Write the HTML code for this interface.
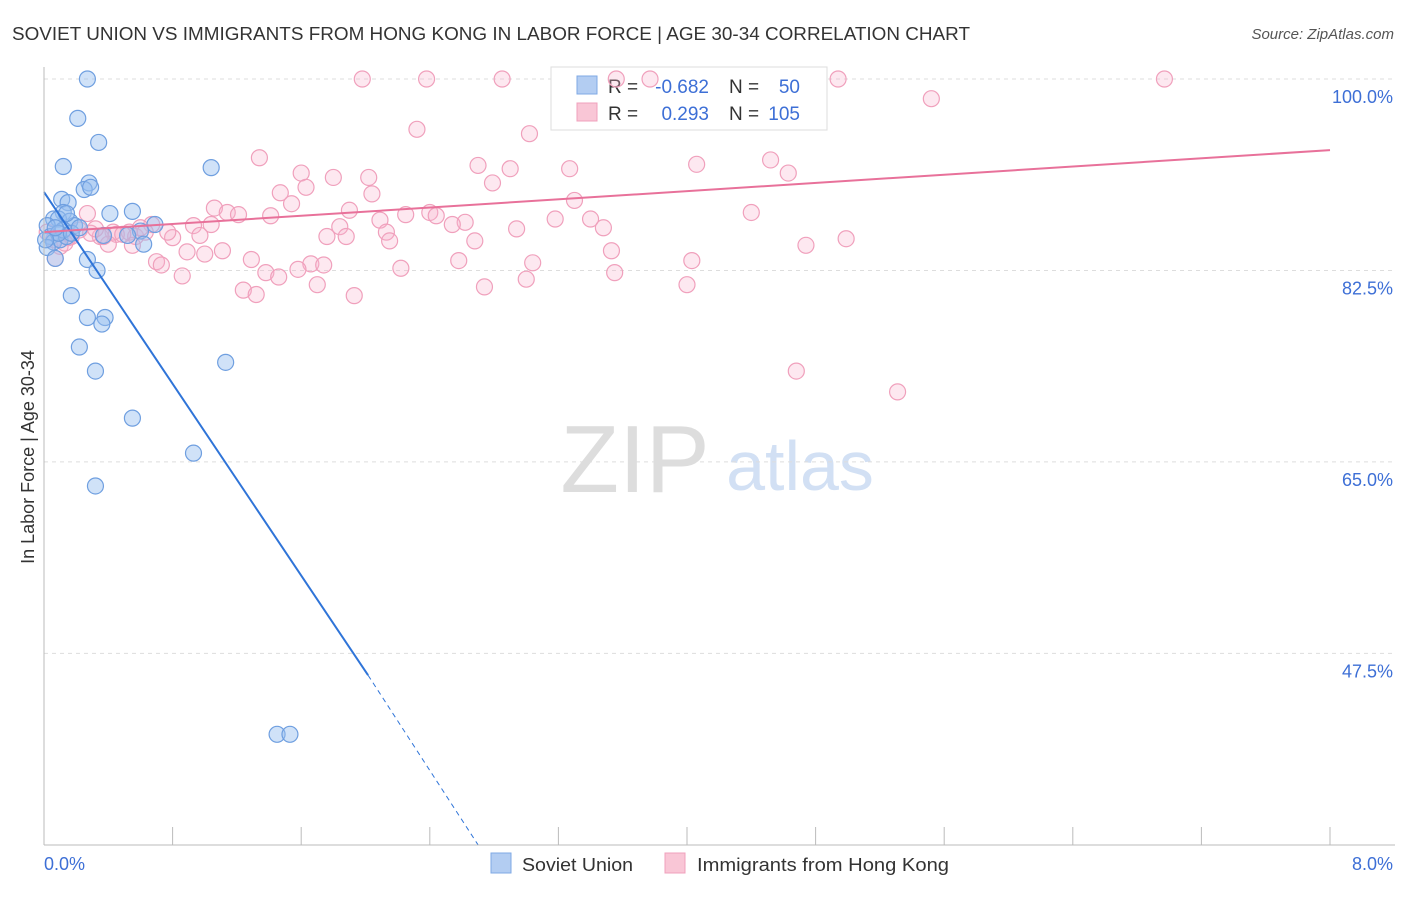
<!DOCTYPE html>
<html><head><meta charset="utf-8"><style>
body{margin:0;background:#fff;font-family:"Liberation Sans",sans-serif;}
svg text{font-family:"Liberation Sans",sans-serif;}
</style></head><body>
<svg id="c" width="1406" height="892" xmlns="http://www.w3.org/2000/svg">
<text x="12" y="40" font-size="18" fill="#333" textLength="958" lengthAdjust="spacingAndGlyphs">SOVIET UNION VS IMMIGRANTS FROM HONG KONG IN LABOR FORCE | AGE 30-34 CORRELATION CHART</text>
<text x="1394" y="39" font-size="15" fill="#555" font-style="italic" text-anchor="end">Source: ZipAtlas.com</text>
<text x="635" y="492" font-size="96" fill="#ddd" font-family="Liberation Serif" text-anchor="middle">ZIP</text>
<text x="800" y="490" font-size="70" fill="#d2e0f4" text-anchor="middle">atlas</text>
<text transform="translate(34,457) rotate(-90)" font-size="18" fill="#333" text-anchor="middle">In Labor Force | Age 30-34</text>
<g id="grid"></g>
<g>
<rect x="551" y="67" width="276" height="63" fill="#fff" stroke="#ddd"/>
<rect x="577" y="76" width="20" height="18" fill="#b3cdf2" stroke="#7fa9e4"/>
<rect x="577" y="103" width="20" height="18" fill="#f9c6d6" stroke="#f0a0bc"/>
<text x="608" y="93" font-size="19" fill="#333">R =</text>
<text x="709" y="93" font-size="19" fill="#3d6fd6" text-anchor="end">-0.682</text>
<text x="729" y="93" font-size="19" fill="#333">N =</text>
<text x="800" y="93" font-size="19" fill="#3d6fd6" text-anchor="end">50</text>
<text x="608" y="120" font-size="19" fill="#333">R =</text>
<text x="709" y="120" font-size="19" fill="#3d6fd6" text-anchor="end">0.293</text>
<text x="729" y="120" font-size="19" fill="#333">N =</text>
<text x="800" y="120" font-size="19" fill="#3d6fd6" text-anchor="end">105</text>
</g>
<g id="pts"></g><g id="lines"></g>
<line x1="44" y1="67" x2="44" y2="845" stroke="#bbb"/>
<line x1="44" y1="845" x2="1395" y2="845" stroke="#bbb"/>
<text x="44" y="870" font-size="18" fill="#3d6fd6">0.0%</text>
<text x="1393" y="870" font-size="18" fill="#3d6fd6" text-anchor="end">8.0%</text>
<g>
<rect x="491" y="853" width="20" height="20" fill="#b3cdf2" stroke="#7fa9e4"/>
<text x="522" y="871" font-size="18" fill="#333" textLength="111" lengthAdjust="spacingAndGlyphs">Soviet Union</text>
<rect x="665" y="853" width="20" height="20" fill="#f9c6d6" stroke="#f0a0bc"/>
<text x="697" y="871" font-size="18" fill="#333" textLength="252" lengthAdjust="spacingAndGlyphs">Immigrants from Hong Kong</text>
</g>
</svg>
<script>
const yTicks=[100,82.5,65,47.5];
const xTicks=[0,0.8,1.6,2.4,3.2,4,4.8,5.6,6.4,7.2,8];
const blueX=[0.27,0.21,0.34,0.12,1.04,0.28,0.25,0.29,0.11,0.15,0.55,0.41,0.12,0.06,0.09,0.16,0.19,0.02,0.69,0.60,0.04,0.06,0.10,0.14,0.37,0.52,0.62,0.02,0.07,0.27,0.33,0.17,0.27,0.38,0.36,0.22,0.32,1.13,0.55,0.93,0.32,1.45,1.53,0.12,0.09,0.01,0.17,0.14,0.07,0.22];
const blueY=[100,96.4,94.2,92.0,91.9,90.5,89.9,90.1,89.0,88.7,87.9,87.7,87.8,87.2,87.2,87.0,86.6,86.6,86.7,86.1,85.6,85.1,85.3,85.6,85.7,85.7,84.9,84.6,83.6,83.5,82.5,80.2,78.2,78.2,77.6,75.5,73.3,74.1,69.0,65.8,62.8,40.1,40.1,86.2,85.9,85.3,85.9,87.7,86.4,86.4];
const pinkX=[1.98,2.38,2.85,3.56,3.77,4.94,6.97,5.52,2.32,3.02,1.34,4.06,4.52,2.70,2.90,3.27,1.60,1.80,2.02,4.63,2.79,1.47,1.63,2.04,3.30,1.54,1.06,1.90,4.40,1.14,1.21,1.41,2.25,2.40,2.44,2.09,2.62,3.40,2.54,3.18,0.27,0.67,0.93,1.04,3.48,2.94,1.84,2.13,1.76,1.88,2.68,2.15,0.97,0.80,0.43,0.53,0.77,0.22,0.35,0.57,0.63,0.45,0.15,0.40,0.55,0.89,1.11,1.00,3.53,4.74,4.99,3.04,1.29,2.58,1.66,1.58,1.74,0.70,0.73,4.03,2.22,1.38,1.46,3.55,0.86,3.00,1.70,2.74,4.00,1.24,1.32,1.93,4.68,5.31,0.06,0.10,0.17,0.02,0.07,0.29,0.13,0.49,0.60,0.37,0.32];
const pinkY=[100,100,100,100,100,100,100,98.2,95.4,95.0,92.8,92.2,92.6,92.1,91.8,91.8,91.4,91.0,91.0,91.4,90.5,89.6,90.1,89.5,88.9,88.6,88.2,88.0,87.8,87.8,87.6,87.5,87.6,87.8,87.5,87.1,86.9,87.2,86.7,87.2,87.7,86.7,86.6,86.7,86.4,86.3,86.5,86.0,85.6,85.6,85.2,85.2,85.7,85.5,86.0,86.0,86.0,86.2,85.6,85.6,86.0,85.8,85.5,84.9,84.8,84.2,84.3,84.0,84.3,84.8,85.4,83.2,83.5,83.4,83.1,82.6,83.0,83.3,83.0,83.4,82.7,82.3,81.9,82.3,82.0,81.7,81.2,81.0,81.2,80.7,80.3,80.2,73.3,71.4,85.3,84.7,85.6,86.0,83.6,85.9,85.0,85.8,86.4,85.6,86.3];
const blueFit=[[0,89.67],[2.016,45.5],[2.70,30]];
const pinkFit=[[0,86.0],[8,93.5]];
const NS='http://www.w3.org/2000/svg';
const sx=v=>44+v*160.75, sy=v=>79+(100-v)*10.94;
function mk(t,a,p){const e=document.createElementNS(NS,t);for(const k in a)e.setAttribute(k,a[k]);document.getElementById(p).appendChild(e);return e;}
yTicks.forEach((t,i)=>{
 const l=mk('line',{x1:44,x2:1395,y1:sy(t),y2:sy(t),stroke:'#ddd','stroke-dasharray':'4,4'},'grid');
 
 
 const tx=mk('text',{x:1393,y:sy(t)+24,'font-size':18,fill:'#3d6fd6','text-anchor':'end'},'grid');
 tx.textContent=t.toFixed(1)+'%';
 
 
});
xTicks.forEach(t=>{
 const l=mk('line',{x1:sx(t),x2:sx(t),y1:827,y2:845,stroke:'#bbb'},'grid');
 
 
});
pinkX.forEach((x,i)=>{
 const c=mk('circle',{cx:sx(x),cy:sy(pinkY[i]),r:8,fill:'rgba(248,180,204,0.3)',stroke:'#f0a0bc','stroke-width':1.2},'pts');
 
 
});
blueX.forEach((x,i)=>{
 const c=mk('circle',{cx:sx(x),cy:sy(blueY[i]),r:8,fill:'rgba(150,190,240,0.45)',stroke:'#6f9fe0','stroke-width':1.2},'pts');
 
 
});
const b1=mk('line',{x1:sx(blueFit[0][0]),y1:sy(blueFit[0][1]),x2:sx(blueFit[1][0]),y2:sy(blueFit[1][1]),stroke:'#2f74d8','stroke-width':2},'lines');


const b2=mk('line',{x1:sx(blueFit[1][0]),y1:sy(blueFit[1][1]),x2:sx(blueFit[2][0]),y2:sy(blueFit[2][1]),stroke:'#2f74d8','stroke-width':1,'stroke-dasharray':'5,4'},'lines');


const p1=mk('line',{x1:sx(pinkFit[0][0]),y1:sy(pinkFit[0][1]),x2:sx(pinkFit[1][0]),y2:sy(pinkFit[1][1]),stroke:'#e8719a','stroke-width':2},'lines');


</script>
</body></html>
